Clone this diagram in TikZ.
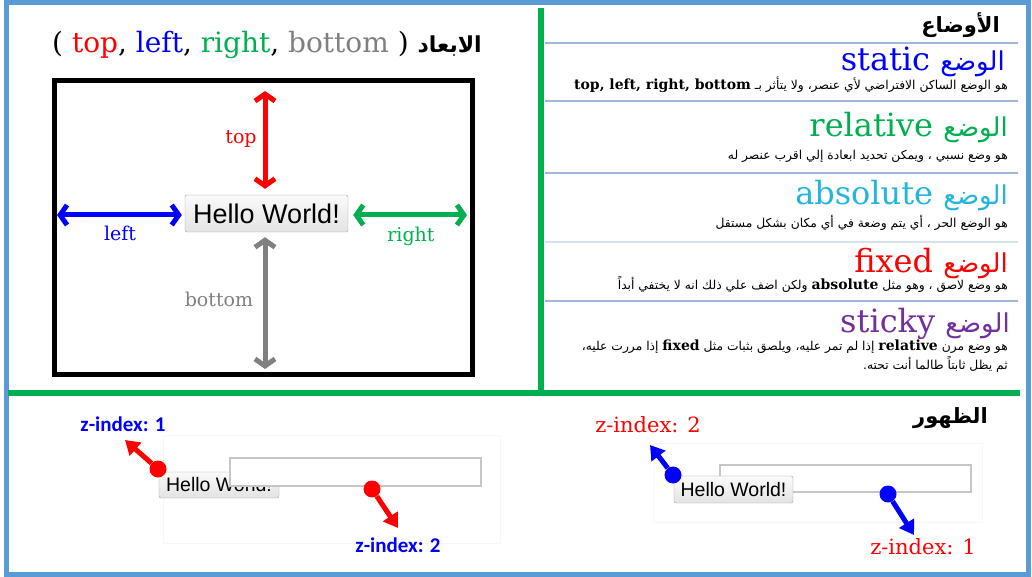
\documentclass[tikz,border=0pt]{standalone}
\usepackage{fontspec}
\setmainfont{DejaVu Serif}
\newfontfamily\arabicfont[Script=Arabic]{DejaVu Sans}
\newfontfamily\buttonfont{Liberation Sans}
\newfontfamily\calfont{Carlito}
\TeXXeTstate=1
\usepackage{tikz}
\usetikzlibrary{arrows.meta,positioning}
\usepackage{xcolor}
\definecolor{frameblue}{RGB}{91,155,213}
\definecolor{panelgreen}{RGB}{0,176,80}
\definecolor{abscyan}{RGB}{35,181,220}
\definecolor{stickypurple}{RGB}{112,48,160}
\definecolor{sepblue}{RGB}{160,182,222}
\definecolor{seplight}{RGB}{215,226,240}
\definecolor{dimgray}{RGB}{128,128,128}
% Latin keyword inside an Arabic line
\newcommand{\latword}[1]{\beginL{\rmfamily\bfseries\fontsize{14}{16}\selectfont #1}\endL{}}

\begin{document}
\begin{tikzpicture}[
  x=1pt, y=-1pt,
  sepline/.style={draw=sepblue, line width=1.2pt},
  modehead/.style={
    anchor=base east, inner sep=0pt,
    font=\fontsize{32}{38}\selectfont
  },
  modetext/.style={
    anchor=base east, inner sep=0pt,
    font=\arabicfont\fontsize{12.3}{16}\selectfont
  },
  arhead/.style={
    anchor=base east, inner sep=0pt,
    font=\arabicfont\bfseries\fontsize{21}{26}\selectfont
  },
  dimarrow/.style={
    line width=5pt,
    {Straight Barb[length=7pt,width=20pt]}-{Straight Barb[length=7pt,width=20pt]}
  },
  dimlabel/.style={inner sep=0pt, font=\fontsize{19}{22}\selectfont},
  hellobtn/.style={
    draw=gray!75, rounded corners=2pt, inner sep=0pt,
    top color=gray!4, bottom color=gray!22, font=\buttonfont
  },
  inputbox/.style={draw=gray!45, fill=white, line width=1.2pt, inner sep=0pt},
  zframe/.style={draw=gray!6, inner sep=0pt},
  zdot/.style={circle, inner sep=0pt, minimum size=17pt},
  zarrow/.style={line width=5pt, -{Triangle[length=14pt,width=17pt]}},
  zblue/.style={inner sep=0pt, text=blue, font=\calfont\bfseries\fontsize{21}{25}\selectfont},
  zred/.style={inner sep=0pt, text=red, font=\fontsize{21}{25}\selectfont}
]
\useasboundingbox (0,0) rectangle (1032,577);

% Outer frame and panel rules
\draw[frameblue, line width=5pt] (6,2.5) rectangle (1028,574.5);
\draw[panelgreen, line width=5.5pt] (541,8) -- (541,393);
\draw[panelgreen, line width=6pt] (8,393) -- (1020,393);

% ===== Dimensions panel =====
\node[anchor=base, inner sep=0pt, font=\fontsize{28}{34}\selectfont] (dimtitle) at (267,53)
  {( {\color{red}top}, {\color{blue}left}, {\color{panelgreen}right}, {\color{dimgray}bottom} )
   {\arabicfont\bfseries\fontsize{22}{28}\selectfont\beginR الابعاد\endR}};
\draw[line width=5pt] (54.5,80.5) rectangle (472.5,374.5);

\node[hellobtn, minimum width=163pt, minimum height=37pt, font=\buttonfont\fontsize{27}{30}\selectfont]
  (hello) at (266.5,213.5) {Hello World!};

\coordinate (topEnd) at (265,91);
\coordinate (bottomEnd) at (265,369);
\coordinate (leftEnd) at (57,215);
\coordinate (rightEnd) at (467,215);

\draw[dimarrow, red, shorten >=6pt] (topEnd) -- (topEnd |- hello.north);
\draw[dimarrow, dimgray, shorten >=5pt] (bottomEnd) -- (bottomEnd |- hello.south);
\draw[dimarrow, blue, shorten >=3pt] (leftEnd) -- (leftEnd -| hello.west);
\draw[dimarrow, panelgreen, shorten >=5pt] (rightEnd) -- (rightEnd -| hello.east);

\node[dimlabel, text=red] (toplabel) at (241,139) {top};
\node[dimlabel, text=blue] (leftlabel) at (120,233) {left};
\node[dimlabel, text=panelgreen] (rightlabel) at (411,236) {right};
\node[dimlabel, text=dimgray] (bottomlabel) at (219,299) {bottom};

% ===== Modes panel =====
\node[arhead] (modestitle) at (1000,33) {\beginR الأوضاع\endR};
\foreach \y in {43,101,173,301}
  \draw[sepline] (545,\y) -- (1018,\y);
\draw[draw=seplight, line width=1.2pt] (545,242) -- (1018,242);

% static
\node[modehead, text=blue] (statichead) at (1005,71)
  {static {\arabicfont\fontsize{26}{32}\selectfont\beginR الوضع\endR}};
\node[modetext] (statictext) at (1008,90)
  {\beginR هو الوضع الساكن الافتراضي لأي عنصر، ولا يتأثر بـ \latword{top, left, right, bottom}\endR};

% relative
\node[modehead, text=panelgreen] (relativehead) at (1008,137)
  {relative {\arabicfont\fontsize{26}{32}\selectfont\beginR الوضع\endR}};
\node[modetext] (relativetext) at (1008,160)
  {\beginR هو وضع نسبي ، ويمكن تحديد ابعادة إلي اقرب عنصر له\endR};

% absolute
\node[modehead, text=abscyan] (absolutehead) at (1008,205)
  {absolute {\arabicfont\fontsize{26}{32}\selectfont\beginR الوضع\endR}};
\node[modetext] (absolutetext) at (1008,227)
  {\beginR هو الوضع الحر ، أي يتم وضعة في أي مكان بشكل مستقل\endR};

% fixed
\node[modehead, text=red] (fixedhead) at (1008,272)
  {fixed {\arabicfont\fontsize{26}{32}\selectfont\beginR الوضع\endR}};
\node[modetext] (fixedtext) at (1008,289)
  {\beginR هو وضع لاصق ، وهو مثل \latword{absolute} ولكن اضف علي ذلك انه لا يختفي أبداً\endR};

% sticky
\node[modehead, text=stickypurple] (stickyhead) at (1010,332)
  {sticky {\arabicfont\fontsize{26}{32}\selectfont\beginR الوضع\endR}};
\node[modetext] (stickytext) at (1008,350)
  {\beginR هو وضع مرن \latword{relative} إذا لم تمر عليه، ويلصق بثبات مثل \latword{fixed} إذا مررت عليه،\endR};
\node[modetext] (stickytext2) at (1008,369)
  {\beginR ثم يظل ثابتاً طالما أنت تحته.\endR};

% ===== Visibility panel =====
\node[arhead] (visibletitle) at (988,423) {\beginR الظهور\endR};

% left example: field above the button
\node[zframe, minimum width=337pt, minimum height=108pt] (frameL) at (331.5,489) {};
\node[hellobtn, minimum width=120pt, minimum height=26pt, font=\buttonfont\fontsize{19.5}{22}\selectfont]
  (helloL) at (219,485) {Hello World!};
\node[inputbox, minimum width=251pt, minimum height=28pt] (fieldL) at (355.5,472) {};

\node[zdot, fill=red] (dotA) at (158,469) {};
\node[zdot, fill=red] (dotB) at (372,489) {};
\coordinate (tipA) at (125,440);
\coordinate (tipB) at (398,528);
\draw[zarrow, red] (dotA) -- (tipA);
\draw[zarrow, red] (dotB) -- (tipB);
\node[zblue] (zoneL) at (123,424) {z-index: 1};
\node[zblue] (ztwoL) at (398,545) {z-index: 2};

% right example: button above the field
\node[zframe, minimum width=329pt, minimum height=79pt] (frameR) at (817.5,482.5) {};
\node[inputbox, minimum width=251pt, minimum height=27pt] (fieldR) at (845.5,478.5) {};
\node[hellobtn, minimum width=119pt, minimum height=27pt, font=\buttonfont\fontsize{19.5}{22}\selectfont]
  (helloR) at (733.5,489.5) {Hello World!};

\node[zdot, fill=blue] (dotC) at (673,475) {};
\node[zdot, fill=blue] (dotD) at (888,494) {};
\coordinate (tipC) at (650,445);
\coordinate (tipD) at (914,535);
\draw[zarrow, blue] (dotC) -- (tipC);
\draw[zarrow, blue] (dotD) -- (tipD);
\node[zred] (ztwoR) at (648,425) {z-index: 2};
\node[zred] (zoneR) at (923,547) {z-index: 1};

\end{tikzpicture}
\end{document}
